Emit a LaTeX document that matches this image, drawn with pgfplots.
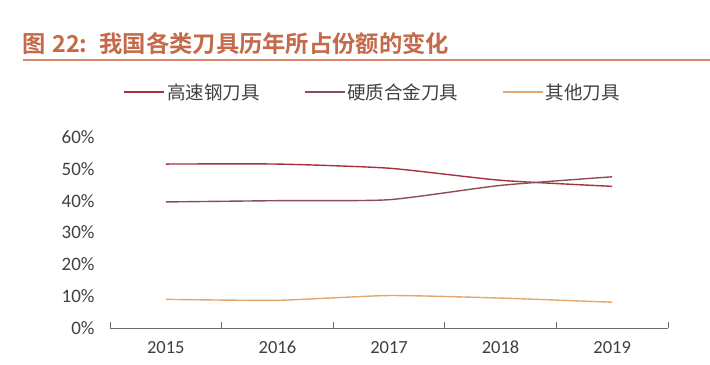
\documentclass[border=0pt]{standalone}
\usepackage{pgfplots}
\pgfplotsset{compat=1.18}
\usepackage{fontspec}
\setmainfont{Carlito}
\newfontfamily\cjk{Noto Sans CJK SC}
\newfontfamily\cjkb{Noto Sans CJK SC Bold}
\definecolor{hss}{HTML}{A8303A}
\definecolor{carb}{HTML}{8A4E54}
\definecolor{oth}{HTML}{E4A76E}
\definecolor{ttl}{HTML}{C46A4A}
\definecolor{rule}{HTML}{D9896A}
\definecolor{tk}{HTML}{404040}
\begin{document}
\begin{tikzpicture}[x=1bp,y=1bp]
\useasboundingbox (0,0) rectangle (710,364);
\node[anchor=west,text=ttl,inner sep=0pt] at (22,320) {\fontsize{23.3bp}{25bp}\cjkb 图\hspace{7bp}22:\hspace{12bp}我国各类刀具历年所占份额的变化};
\draw[rule,line width=1.2bp] (23,304) -- (710,304);
\begin{axis}[
  at={(110bp,36bp)}, anchor=south west,
  scale only axis, width=558bp, height=191bp,
  xmin=-0.5, xmax=4.5, ymin=0, ymax=60,
  axis x line*=bottom, axis y line=none,
  x axis line style={draw=gray!85!black, line width=1bp, -},
  xtick={0,1,2,3,4},
  xticklabels={2015,2016,2017,2018,2019},
  major x tick style={draw=none},
  minor xtick={-0.5,0.5,1.5,2.5,3.5,4.5},
  minor x tick style={draw=gray!85!black, line width=0.9bp},
  minor tick length=6bp,
  tick align=inside,
  x tick label style={font=\fontsize{18.5bp}{20bp}\selectfont, text=tk, text height=12bp, text depth=0bp, yshift=-10bp},
  clip=false,
  legend columns=3,
  legend style={at={(0.471,1.235)}, anchor=center, draw=none, fill=none,
    font=\fontsize{18.5bp}{20bp}\cjk, text=tk,
    /tikz/every even column/.append style={column sep=42bp}},
  legend image code/.code={\draw[#1, line width=1.6bp] (0bp,0bp) -- (40bp,0bp);},
]
\addplot[hss, line width=1.4bp, smooth, tension=0.35] coordinates {(0,51.5) (1,51.5) (2,50.2) (3,46.4) (4,44.5)};
\addlegendentry{高速钢刀具}
\addplot[carb, line width=1.4bp, smooth, tension=0.35] coordinates {(0,39.6) (1,40.0) (2,40.3) (3,44.8) (4,47.5)};
\addlegendentry{硬质合金刀具}
\addplot[oth, line width=1.4bp, smooth, tension=0.35] coordinates {(0,9.0) (1,8.7) (2,10.2) (3,9.4) (4,8.1)};
\addlegendentry{其他刀具}
\end{axis}
\begin{axis}[
  at={(110bp,36bp)}, anchor=south west,
  scale only axis, width=558bp, height=191bp,
  xmin=-0.5, xmax=4.5, ymin=0, ymax=60,
  axis x line=none, axis y line*=left, y axis line style={draw=none},
  ytick={0,10,20,30,40,50,60},
  yticklabels={0\%,10\%,20\%,30\%,40\%,50\%,60\%},
  major y tick style={draw=none},
  y tick label style={font=\fontsize{19bp}{20bp}\selectfont, text=tk, xshift=-12bp},
]
\end{axis}
\end{tikzpicture}
\end{document}
